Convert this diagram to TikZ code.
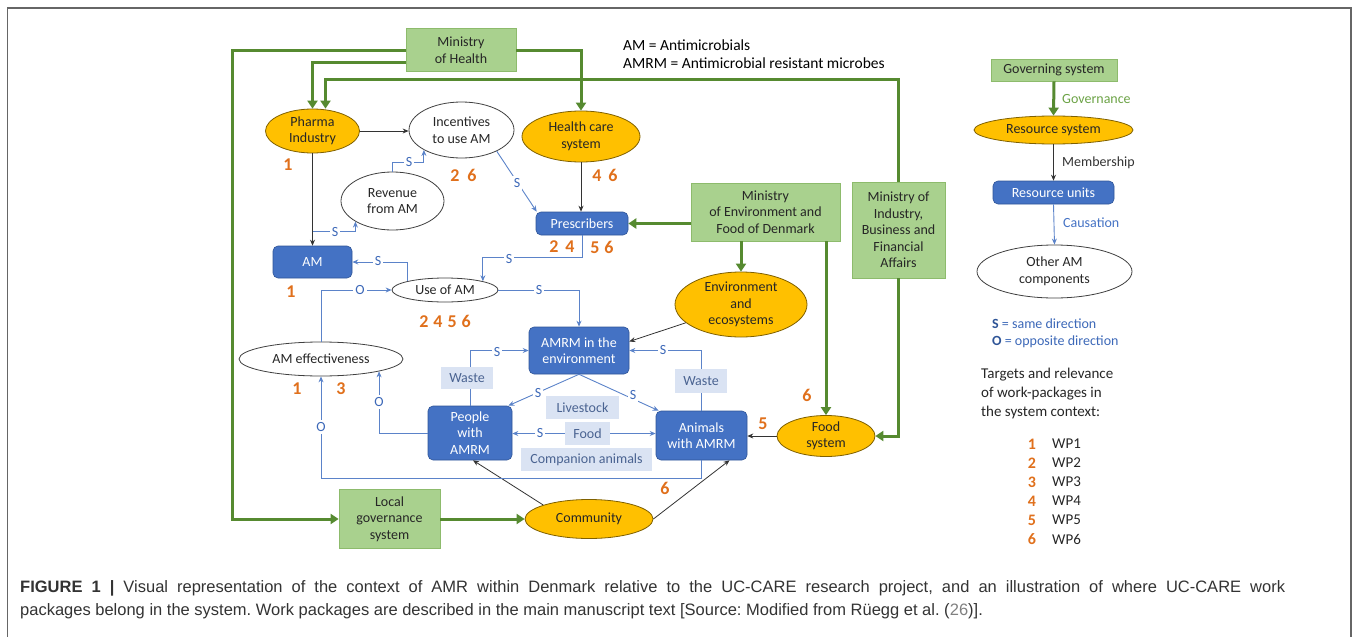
\documentclass[tikz,border=0pt]{standalone}
\usepackage{fontspec}
\setmainfont{Carlito}
\newfontfamily\capfont{Liberation Sans}
\usetikzlibrary{shapes.geometric,arrows.meta}
\newcommand\myfs[2]{\fontsize{#1}{#2}\selectfont}
\definecolor{gfill}{HTML}{A9D18E}
\definecolor{gdraw}{HTML}{8DBB6C}
\definecolor{garrow}{HTML}{568A30}
\definecolor{ofill}{HTML}{FFC000}
\definecolor{odraw}{HTML}{7F6000}
\definecolor{bfill}{HTML}{4472C4}
\definecolor{bdraw}{HTML}{2F5597}
\definecolor{lfill}{HTML}{DAE3F3}
\definecolor{ltext}{HTML}{4A6391}
\definecolor{cline}{HTML}{5B83C9}
\definecolor{stext}{HTML}{3C68B8}
\definecolor{numc}{HTML}{E0701C}
\definecolor{govc}{HTML}{6BA245}
\tikzset{
 txt/.style={inner sep=0pt, align=center, font=\myfs{14}{16.5}, text=black!85},
 gnode/.style={txt, rectangle, fill=gfill, draw=gdraw, line width=0.8pt},
 onode/.style={txt, ellipse, fill=ofill, draw=odraw, line width=0.8pt},
 wnode/.style={txt, ellipse, fill=white, draw=black!75, line width=0.8pt},
 bnode/.style={txt, rectangle, rounded corners=5pt, fill=bfill, draw=bdraw, line width=0.6pt, text=white},
 lnode/.style={txt, rectangle, fill=lfill, text=ltext},
 garr/.style={draw=garrow, line width=3pt, -{Triangle[length=8pt,width=10pt]}},
 karr/.style={draw=black!80, line width=0.8pt, -{Stealth[length=6pt,width=5pt]}},
 carr/.style={draw=cline, line width=0.9pt, -{Stealth[length=6pt,width=5pt]}},
 slab/.style={fill=white, inner sep=2pt, text=stext, font=\myfs{14}{16}},
 num/.style={text=numc, font=\bfseries\myfs{18}{20}, inner sep=0pt},
 plain/.style={inner sep=0pt, anchor=west, font=\myfs{14}{16.5}},
}
\begin{document}
\frenchspacing
\begin{tikzpicture}[x=1pt,y=-1pt]
\useasboundingbox (0,0) rectangle (1358,637);
\draw[black!60, line width=1.5pt] (7.5,640) -- (7.5,8) -- (1351,8) -- (1351,640);

% main nodes
\node[gnode, minimum width=110pt, minimum height=43pt] (mh) at (461,50) {Ministry\\of Health};
\node[onode, minimum width=94pt, minimum height=44pt] (ph) at (312.5,131) {Pharma\\Industry};
\node[wnode, minimum width=105pt, minimum height=56pt] (inc) at (461.5,130) {Incentives\\to use AM};
\node[onode, minimum width=118pt, minimum height=51pt] (hc) at (581,136.5) {Health care\\system};
\node[wnode, minimum width=103pt, minimum height=58pt] (rev) at (392.5,201) {Revenue\\from AM};
\node[bnode, minimum width=79pt, minimum height=32pt] (am) at (312.5,262) {AM};
\node[bnode, minimum width=92pt, minimum height=23pt] (pr) at (582,223.5) {Prescribers};
\node[wnode, minimum width=106pt, minimum height=24pt] (use) at (445,290) {Use of AM};
\node[wnode, minimum width=164pt, minimum height=34pt] (ame) at (321,359) {AM effectiveness};
\node[bnode, minimum width=100pt, minimum height=47pt] (amrm) at (579,350.5) {AMRM in the\\environment};
\node[gnode, minimum width=149pt, minimum height=58pt] (me) at (765.5,212) {Ministry\\of Environment and\\Food of Denmark};
\node[gnode, minimum width=93pt, minimum height=96pt] (mi) at (898.5,230) {Ministry of\\Industry,\\Business and\\Financial\\Affairs};
\node[onode, minimum width=132pt, minimum height=65pt] (env) at (741,304.5) {Environment\\and\\ecosystems};
\node[bnode, minimum width=84pt, minimum height=54pt] (pe) at (470,433) {People\\with\\AMRM};
\node[bnode, minimum width=91pt, minimum height=49pt] (an) at (701.5,435.5) {Animals\\with AMRM};
\node[onode, minimum width=98pt, minimum height=41pt] (fs) at (826,436) {Food\\system};
\node[onode, minimum width=128pt, minimum height=39pt] (comm) at (589,519) {Community};
\node[gnode, minimum width=101pt, minimum height=59pt] (lg) at (389.5,519) {Local\\governance\\system};

% helper coordinates
\coordinate (x232) at (232,0);
\coordinate (y79) at (0,79);
\coordinate (y162) at (0,162);
\coordinate (y257) at (0,257);
\coordinate (y478) at (0,478);
\coordinate (phr) at ([xshift=13pt]ph.north);
\coordinate (camr) at ([yshift=14pt]am.north);

% green governance arrows
\draw[garr] (mh.west) -- (mh.west -| x232) -- (lg.west -| x232) -- (lg.west);
\draw[garr] ([yshift=-12pt]mh.west) -| (ph.north);
\draw[garr] (mi.north) -- (mi.north |- y79) -- (phr |- y79) -- (phr);
\draw[garr] (mh.east) -| (hc.north);
\draw[garr] (pr.east -| me.west) -- (pr.east);
\draw[garr] (me.south -| env.north) -- (env.north);
\draw[garr] (me.south -| fs.north) -- (fs.north);
\draw[garr] (mi.south) |- (fs.east);
\draw[garr] (lg.east) -- (comm.west);

% black membership arrows
\draw[karr] (ph.east) -- (ph.east -| inc.west);
\draw[karr] (ph.south) -- (am.north);
\draw[karr] (hc.south) -- (hc.south |- pr.north);
\draw[karr] (env) -- ([yshift=9pt]amrm.east);
\draw[karr] (fs.west) -- (fs.west -| an.east);
\draw[karr] (comm.163) -- ([xshift=3pt]pe.south);
\draw[karr] (comm.east) -- ([xshift=28pt]an.south);

% blue causal arrows
\draw[carr] (rev.north) -- (rev.north |- y162) -| (inc.208);
\draw[carr] (inc.-31) -- ([xshift=1pt]pr.north west);
\draw[carr] (camr) -| (rev.209);
\draw[carr] (use.167) |- (am.east);
\draw[carr] (ame.north) |- (use.west);
\draw[carr] (use.east) -| (amrm.north);
\draw[carr] (pr.south) -- (pr.south |- y257) -| (use.13);
\draw[carr] (pe.north) |- (amrm.west);
\draw[carr] (an.north) |- (amrm.east);
\draw[carr] (amrm.south) -- ([xshift=-4pt]pe.north east);
\draw[carr] (amrm.south) -- ([xshift=3pt]an.north west);
\draw[carr] (an.south) -- (an.south |- y478) -| (ame.south);
\draw[carr] (pe.west) -| (ame.-12);

% light label boxes
\node[lnode, minimum width=52pt, minimum height=22pt] (wl) at (467,378) {Waste};
\node[lnode, minimum width=52pt, minimum height=24pt] (wr) at (701,381) {Waste};
\node[lnode, minimum width=73pt, minimum height=23pt] (ls) at (582.5,407.5) {Livestock};
\node[lnode, minimum width=45pt, minimum height=23pt] (food) at (587.5,433.5) {Food};
\node[lnode, minimum width=131pt, minimum height=23pt] (ca) at (586.5,459.5) {Companion animals};
\draw[carr] (food.west) -- (food.west -| pe.east);
\draw[carr] (food.east) -- (food.east -| an.west);

% S / O labels
\node[slab] (s1) at (409,162) {S};
\node[slab] (s2) at (517,183) {S};
\node[slab] (s3) at (335,232) {S};
\node[slab] (s4) at (378,261) {S};
\node[slab] (o1) at (360,290) {O};
\node[slab] (s5) at (539,290) {S};
\node[slab] (s6) at (509,259) {S};
\node[slab] (s7) at (497,352) {S};
\node[slab] (s8) at (663,350) {S};
\node[slab] (s9) at (538,393) {S};
\node[slab] (s10) at (633,395) {S};
\node[slab] (s11) at (540,433) {S};
\node[slab] (o2) at (321,427) {O};
\node[slab] (o3) at (379,402) {O};

% work package numbers
\node[num] (n1a) at (288,165) {1};
\node[num] (n26) at (463.5,175) {2\hspace{8pt}6};
\node[num] (n46) at (605,175) {4\hspace{7pt}6};
\node[num] (n24) at (562,247) {2\hspace{7pt}4};
\node[num] (n56) at (602,247) {5\hspace{5pt}6};
\node[num] (n1b) at (291,292) {1};
\node[num] (n2456) at (445,321) {2\hspace{5pt}4\hspace{5pt}5\hspace{5pt}6};
\node[num] (n1c) at (297,389) {1};
\node[num] (n3) at (341,389) {3};
\node[num] (n6a) at (807,395) {6};
\node[num] (n5) at (763,424) {5};
\node[num] (n6b) at (665,488) {6};

% abbreviations
\node[plain, font=\myfs{15.5}{18}] (ab1) at (623,45) {AM = Antimicrobials};
\node[plain, font=\myfs{15.5}{18}] (ab2) at (623,63) {AMRM = Antimicrobial resistant microbes};

% legend
\node[gnode, minimum width=126pt, minimum height=22pt] (gs) at (1054,70) {Governing system};
\node[onode, minimum width=159pt, minimum height=28pt] (rs) at (1053.5,130) {Resource system};
\node[bnode, minimum width=121pt, minimum height=23pt] (ru) at (1053.5,192.5) {Resource units};
\node[wnode, minimum width=155pt, minimum height=53pt] (oc) at (1054.5,271.5) {Other AM\\components};
\draw[garr] (gs.south) -- (rs.north);
\draw[karr] (rs.south) -- (ru.north);
\draw[carr] (ru.south) -- (oc.north);
\node[plain, text=govc] (lgov) at (1062,99) {Governance};
\node[plain, text=black!80] (lmem) at (1062,163) {Membership};
\node[plain, text=bfill] (lcau) at (1063,223) {Causation};
\node[plain, text=stext] (lsd) at (992,324) {\textcolor{bdraw}{\bfseries S} = same direction};
\node[plain, text=stext] (lod) at (992,342) {\textcolor{bdraw}{\bfseries O} = opposite direction};
\node[plain, align=left, font=\myfs{15}{19}, text=black!85] (ltg) at (981,393) {Targets and relevance\\of work-packages in\\the system context:};
\foreach \i/\yy in {1/444,2/463,3/482,4/501,5/520,6/539}{
  \node[num, font=\bfseries\myfs{16}{18}] (wn\i) at (1032,\yy) {\i};
  \node[plain, font=\myfs{15}{18}, text=black!85] (wt\i) at (1052,\yy) {WP\i};
}

% caption
\node[inner sep=0pt, anchor=west, font=\capfont\myfs{16.5}{18}, text=black!80] (cap1) at (20,588) {\makebox[1265pt][s]{\textbf{FIGURE 1 |} Visual representation of the context of AMR within Denmark relative to the UC-CARE research project, and an illustration of where UC-CARE work}};
\node[inner sep=0pt, anchor=west, font=\capfont\myfs{16.5}{18}, text=black!80] (cap2) at (20,611) {packages belong in the system. Work packages are described in the main manuscript text [Source: Modified from Rüegg et al. (\textcolor{black!50}{26})].};
\end{tikzpicture}
\end{document}
